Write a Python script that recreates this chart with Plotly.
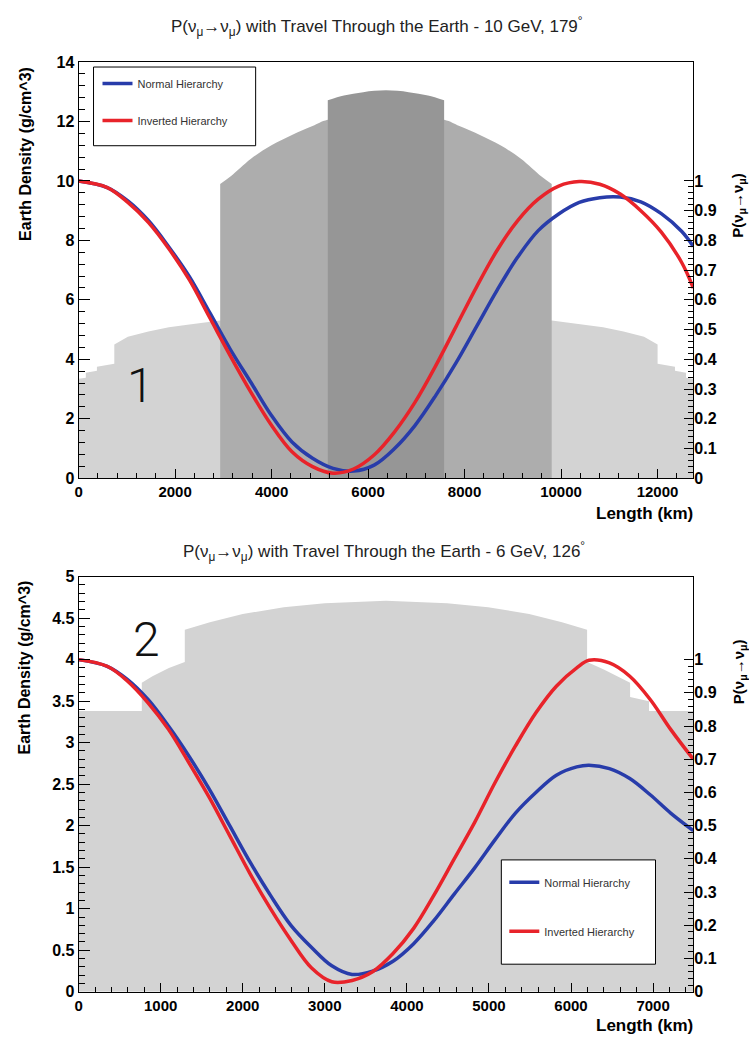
import plotly.graph_objects as go

# ---------------- data: panel 1 (10 GeV, 179 deg) ----------------
L1_MAX = 12742
# light grey mantle profile (km, g/cm^3)
mantle1_x = [0, 150, 150, 380, 380, 740, 740, 1021, 1446, 1871, 2297, 2935,
             9807, 10445, 10871, 11296, 11721, 12002, 12002, 12362, 12362, 12592, 12592, 12742]
mantle1_d = [3.35, 3.38, 3.55, 3.62, 3.75, 3.85, 4.50, 4.76, 4.94, 5.08, 5.17, 5.31,
             5.31, 5.17, 5.08, 4.94, 4.76, 4.50, 3.85, 3.75, 3.62, 3.55, 3.38, 3.35]
# outer core
outer1_x = [2935, 3147, 3573, 3998, 4423, 4849, 5165, 6371, 7577, 7893, 8319, 8744, 9169, 9595, 9807]
outer1_d = [9.90, 10.15, 10.75, 11.20, 11.55, 11.85, 12.06, 12.25, 12.06, 11.85, 11.55, 11.20, 10.75, 10.15, 9.90]
# inner core
inner1_x = [5165, 5500, 5900, 6371, 6842, 7242, 7577]
inner1_d = [12.72, 12.88, 12.99, 13.05, 12.99, 12.88, 12.72]

# oscillation probability
p1_x = [0, 595, 1021, 1446, 1871, 2297, 2722, 3147, 3573, 3998, 4423, 4849,
        5274, 5699, 6125, 6550, 6975, 7401, 7826, 8251, 8676, 9102, 9527,
        9952, 10378, 10803, 11228, 11654, 12079, 12504, 12742]
p1_nh = [1.000, 0.978, 0.933, 0.867, 0.778, 0.678, 0.556, 0.433, 0.322, 0.211,
         0.122, 0.067, 0.033, 0.024, 0.044, 0.100, 0.178, 0.278, 0.389, 0.511,
         0.633, 0.744, 0.833, 0.889, 0.928, 0.944, 0.946, 0.930, 0.890, 0.830, 0.780]
p1_ih = [1.000, 0.978, 0.928, 0.861, 0.772, 0.667, 0.539, 0.411, 0.289, 0.178,
         0.089, 0.039, 0.017, 0.031, 0.078, 0.156, 0.256, 0.378, 0.511, 0.644,
         0.767, 0.867, 0.939, 0.983, 0.998, 0.989, 0.956, 0.900, 0.828, 0.725, 0.640]

# ---------------- data: panel 2 (6 GeV, 126 deg) ----------------
L2_MAX = 7490
mantle2_x = [0, 770, 770, 900, 1100, 1294, 1294, 1600, 2000, 2500, 3000, 3745,
             4490, 4990, 5490, 5890, 6196, 6196, 6400, 6720, 6720, 6950, 6950, 7490]
mantle2_d = [3.38, 3.38, 3.72, 3.80, 3.90, 3.97, 4.36, 4.45, 4.55, 4.63, 4.68, 4.71,
             4.68, 4.63, 4.55, 4.45, 4.36, 3.97, 3.88, 3.72, 3.55, 3.50, 3.38, 3.38]

p2_x = [0, 348, 597, 846, 1095, 1343, 1592, 1841, 2090, 2338, 2587, 2836,
        3085, 3333, 3582, 3831, 4080, 4328, 4577, 4826, 5075, 5323, 5572,
        5821, 6070, 6219, 6468, 6716, 6965, 7214, 7490]
p2_nh = [1.000, 0.980, 0.940, 0.880, 0.800, 0.710, 0.610, 0.500, 0.390, 0.290,
         0.200, 0.134, 0.078, 0.052, 0.062, 0.092, 0.144, 0.214, 0.294, 0.373,
         0.458, 0.538, 0.600, 0.652, 0.677, 0.682, 0.672, 0.642, 0.593, 0.538, 0.485]
p2_ih = [1.000, 0.980, 0.935, 0.870, 0.790, 0.690, 0.585, 0.470, 0.355, 0.250,
         0.155, 0.072, 0.030, 0.034, 0.060, 0.115, 0.190, 0.290, 0.400, 0.510,
         0.630, 0.740, 0.840, 0.920, 0.975, 0.998, 0.990, 0.950, 0.880, 0.790, 0.700]

x1_ticks = [0, 2000, 4000, 6000, 8000, 10000, 12000]
x2_ticks = [0, 1000, 2000, 3000, 4000, 5000, 6000, 7000]
series_names = ["Normal Hierarchy", "Inverted Hierarchy"]
titles = ["P(ν<sub>μ</sub>→ν<sub>μ</sub>) with Travel Through the Earth - 10 GeV, 179<sup>°</sup>",
          "P(ν<sub>μ</sub>→ν<sub>μ</sub>) with Travel Through the Earth - 6 GeV, 126<sup>°</sup>"]

# ---------------- styles ----------------
LIGHT = "rgb(211,211,211)"
MID = "rgb(173,173,173)"
DARK = "rgb(150,150,150)"
BLUE = "rgb(40,60,170)"
RED = "rgb(232,35,42)"
FONT = "Liberation Sans"

fig = go.Figure()

def fill(x, y, color, xa, ya, shape="linear"):
    fig.add_trace(go.Scatter(x=x, y=y, mode="lines", fill="tozeroy", fillcolor=color,
                             line=dict(width=0, color=color, shape=shape), xaxis=xa, yaxis=ya,
                             showlegend=False, hoverinfo="skip"))

fill(mantle1_x, mantle1_d, LIGHT, "x", "y")
fill(outer1_x, outer1_d, MID, "x", "y", "spline")
fill(inner1_x, inner1_d, DARK, "x", "y", "spline")
fill(mantle2_x, mantle2_d, LIGHT, "x2", "y3")

for vals, col, nm, grp in [(p1_nh, BLUE, series_names[0], "a"), (p1_ih, RED, series_names[1], "b")]:
    fig.add_trace(go.Scatter(x=p1_x, y=vals, mode="lines", line=dict(color=col, width=3.5, shape="spline"),
                             name=nm, xaxis="x", yaxis="y2", legend="legend", legendgroup=grp))
for vals, col, nm, grp in [(p2_nh, BLUE, series_names[0], "c"), (p2_ih, RED, series_names[1], "d")]:
    fig.add_trace(go.Scatter(x=p2_x, y=vals, mode="lines", line=dict(color=col, width=3.5, shape="spline"),
                             name=nm, xaxis="x2", yaxis="y4", legend="legend2", legendgroup=grp))

W, H = 749, 1045
def px(v):
    return v / W
def py(v):
    return 1 - v / H

xdom = [px(75), px(693)]
top_dom = [py(478), py(55)]
bot_dom = [py(1000), py(578)]

tickfont = dict(family=FONT, size=16, color="black", weight="bold")
xtickfont = dict(family=FONT, size=15, color="black", weight="bold")
common = dict(showgrid=False, zeroline=False, showline=True, linecolor="black", linewidth=1,
              ticks="inside", tickcolor="black", mirror=True)

pv = [i / 10 for i in range(11)]
pt = ["0"] + ["0.%d" % i for i in range(1, 10)] + ["1"]
pminor = [i / 50 for i in range(51) if i % 5]

legfont = dict(family=FONT, size=11, color="#333")
fig.update_layout(
    width=W, height=H, margin=dict(l=0, r=0, t=0, b=0),
    paper_bgcolor="white", plot_bgcolor="white",
    xaxis=dict(domain=xdom, anchor="y", range=[0, L1_MAX], tickvals=x1_ticks,
               ticktext=[str(v) for v in x1_ticks], tickfont=xtickfont,
               ticklen=9, minor=dict(ticks="inside", dtick=400, ticklen=5, tickcolor="black"), **common),
    yaxis=dict(domain=top_dom, anchor="x", range=[0, 14], dtick=2, ticklen=11, tickfont=tickfont,
               minor=dict(ticks="inside", dtick=0.4, ticklen=6, tickcolor="black"), **common),
    yaxis2=dict(overlaying="y", anchor="x", side="right", range=[0, 1.4], tickvals=pv, ticktext=pt,
                ticks="inside", ticklen=9, tickcolor="black", tickfont=tickfont, showgrid=False,
                zeroline=False, showline=False,
                minor=dict(ticks="inside", tickvals=pminor, ticklen=5, tickcolor="black")),
    xaxis2=dict(domain=xdom, anchor="y3", range=[0, L2_MAX], tickvals=x2_ticks,
                ticktext=[str(v) for v in x2_ticks], ticklen=9, tickfont=xtickfont,
                minor=dict(ticks="inside", dtick=200, ticklen=5, tickcolor="black"), **common),
    yaxis3=dict(domain=bot_dom, anchor="x2", range=[0, 5], dtick=0.5, ticklen=11, tickfont=tickfont,
                minor=dict(ticks="inside", dtick=0.1, ticklen=6, tickcolor="black"), **common),
    yaxis4=dict(overlaying="y3", anchor="x2", side="right", range=[0, 1.25], tickvals=pv, ticktext=pt,
                ticks="inside", ticklen=9, tickcolor="black", tickfont=tickfont, showgrid=False,
                zeroline=False, showline=False,
                minor=dict(ticks="inside", tickvals=pminor, ticklen=5, tickcolor="black")),
    legend=dict(x=px(94), y=py(62), xanchor="left", yanchor="top", bgcolor="rgba(0,0,0,0)",
                borderwidth=0, font=legfont, tracegroupgap=18, itemwidth=30),
    legend2=dict(x=px(503), y=py(874), xanchor="left", yanchor="top", bgcolor="rgba(0,0,0,0)",
                 borderwidth=0, font=legfont, tracegroupgap=30, itemwidth=30),
    shapes=[
        dict(type="rect", xref="paper", yref="paper", x0=px(90), x1=px(253), y0=py(140), y1=py(60),
             fillcolor="white", line=dict(color="black", width=1), layer="above"),
        dict(type="rect", xref="paper", yref="paper", x0=px(500), x1=px(655), y0=py(972), y1=py(866),
             fillcolor="white", line=dict(color="black", width=1), layer="above"),
    ],
)

ann = []
ann.append(dict(text=titles[0], x=px(375), y=py(19), xref="paper", yref="paper", showarrow=False,
                yanchor="middle", font=dict(family=FONT, size=17, color="#222")))
ann.append(dict(text=titles[1], x=px(382), y=py(552), xref="paper", yref="paper", showarrow=False,
                yanchor="middle", font=dict(family=FONT, size=17, color="#222")))
for ytop in [58, 580]:
    ann.append(dict(text="Earth Density (g/cm^3)", x=px(21), y=py(ytop), xref="paper", yref="paper",
                    showarrow=False, textangle=-90, yanchor="top", xanchor="center",
                    font=dict(family=FONT, size=16, color="black", weight="bold")))
for yl in [514, 1034]:
    ann.append(dict(text="Length (km)", x=px(695), y=py(yl), xref="paper", yref="paper",
                    showarrow=False, xanchor="right", yanchor="middle",
                    font=dict(family=FONT, size=17, color="black", weight="bold")))
ann.append(dict(text="P(ν<sub>μ</sub>→ν<sub>μ</sub>)", x=px(739), y=py(166), xref="paper", yref="paper",
                showarrow=False, textangle=-90, yanchor="top", xanchor="center",
                font=dict(family=FONT, size=15, color="black", weight="bold")))
ann.append(dict(text="P(ν<sub>μ</sub>→ν<sub>μ</sub>)", x=px(739), y=py(640), xref="paper", yref="paper",
                showarrow=False, textangle=-90, yanchor="top", xanchor="center",
                font=dict(family=FONT, size=15, color="black", weight="bold")))
ann.append(dict(text="1", x=px(122), y=py(384), xref="paper", yref="paper", showarrow=False,
                yanchor="middle", font=dict(family="Roboto", size=48, color="#111", weight=300)))
ann.append(dict(text="2", x=px(128), y=py(642), xref="paper", yref="paper", showarrow=False,
                yanchor="middle", font=dict(family="Roboto", size=48, color="#111", weight=300)))
fig.update_layout(annotations=ann)

fig.write_html("out.html")
